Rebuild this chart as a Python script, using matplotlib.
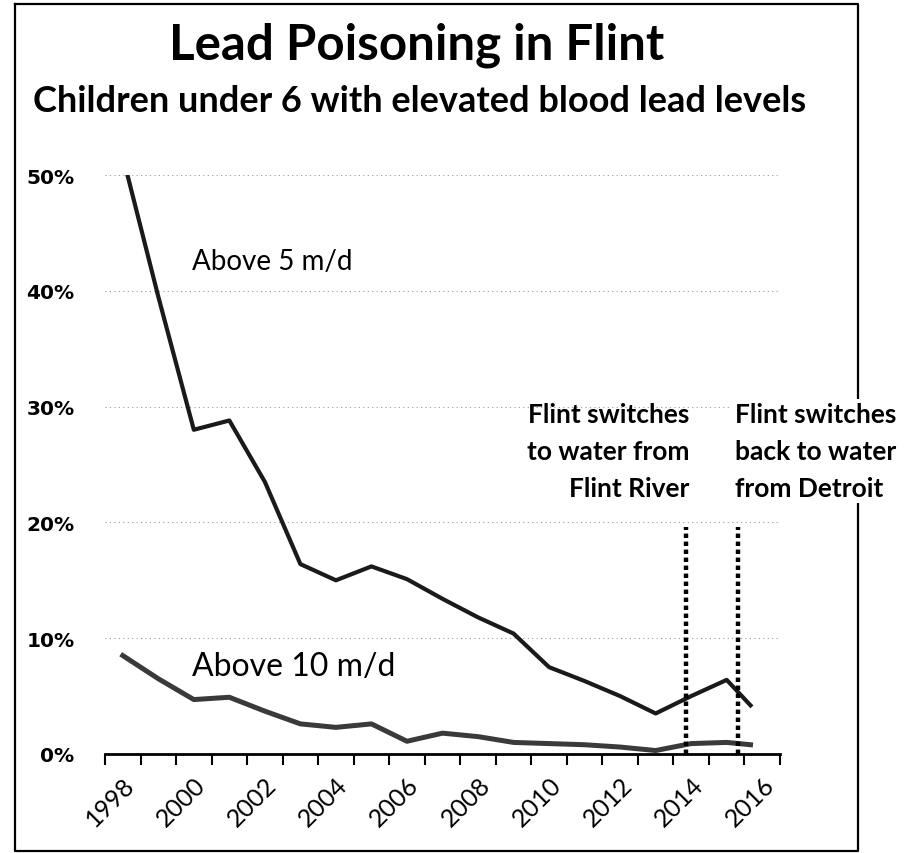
import numpy as np
import matplotlib.pyplot as plt
from matplotlib.lines import Line2D

# data (percent of children under 6)
years = [1998, 1999, 2000, 2001, 2002, 2003, 2004, 2005, 2006, 2007,
         2008, 2009, 2010, 2011, 2012, 2013, 2014, 2015, 2015.67]
above_5 = [51.6, 39.5, 28.0, 28.8, 23.5, 16.4, 15.0, 16.2, 15.1, 13.4,
           11.8, 10.4, 7.5, 6.3, 5.0, 3.5, 5.0, 6.4, 4.2]
above_10 = [8.5, 6.5, 4.7, 4.9, 3.7, 2.6, 2.3, 2.6, 1.1, 1.8,
            1.5, 1.0, 0.9, 0.8, 0.6, 0.3, 0.9, 1.0, 0.8]
tick_years = list(range(1998, 2017, 2))
switch_to_river = 2013.85
switch_back = 2015.32

fig = plt.figure(figsize=(9.23, 8.54), dpi=100)
ax = fig.add_axes([105 / 923, 99 / 854, 675 / 923, 579 / 854])

# outer frame of the chart (drawn under the axes so text boxes hide it)
fig.add_artist(Line2D([15 / 923, 858 / 923, 858 / 923, 15 / 923, 15 / 923],
                      [849 / 854, 849 / 854, 2 / 854, 2 / 854, 849 / 854],
                      transform=fig.transFigure, color="black", lw=1.6,
                      zorder=-5))

ax.plot(years, above_5, color="#1a1a1a", lw=3.0, solid_joinstyle="round")
ax.plot(years, above_10, color="#3a3a3a", lw=3.6, solid_joinstyle="round")

ax.vlines([switch_to_river, switch_back], 0, 19.6, colors="black",
          linestyles=[(0, (1, 0.8))], lw=3.2)

ax.set_xlim(1997.5, 2016.5)
ax.set_ylim(0, 50)

# gridlines
for v in [10, 20, 30, 40, 50]:
    ax.axhline(v, color="#9a9a9a", lw=0.8, ls=(0, (1, 3)), zorder=0)

for s in ["left", "right", "top"]:
    ax.spines[s].set_visible(False)
ax.spines["bottom"].set_linewidth(2)

ax.set_yticks([0, 10, 20, 30, 40, 50])
ax.set_yticklabels(["0%", "10%", "20%", "30%", "40%", "50%"],
                   fontfamily="DejaVu Sans", fontweight="bold", fontsize=14.5)
ax.tick_params(axis="y", length=0, pad=22)

ax.set_xticks(np.arange(1997.5, 2017, 1))
ax.set_xticklabels([])
ax.tick_params(axis="x", which="major", length=8, width=1.5, direction="out")
ax.set_xticks(tick_years, minor=True)
ax.set_xticklabels([str(y) for y in tick_years], minor=True, rotation=45,
                   ha="right", rotation_mode="anchor", fontfamily="Lato",
                   fontsize=18)
ax.tick_params(axis="x", which="minor", length=0, pad=13)

ax.text(1999.95, 42.6, "Above 5 m/d", fontfamily="Lato", fontsize=20,
        va="center", ha="left")
ax.text(1999.95, 7.6, "Above 10 m/d", fontfamily="Lato", fontsize=23,
        va="center", ha="left")

ax.text(2013.96, 30.4, "Flint switches\nto water from\nFlint River",
        fontfamily="Lato", fontweight="bold", fontsize=19, ha="right",
        va="top", linespacing=1.65, clip_on=False)
ax.text(2015.23, 30.4, "Flint switches\nback to water\nfrom Detroit",
        fontfamily="Lato", fontweight="bold", fontsize=19, ha="left",
        va="top", linespacing=1.65, clip_on=False,
        bbox=dict(facecolor="white", edgecolor="none", pad=2))

fig.text(417 / 923, 1 - 45 / 854, "Lead Poisoning in Flint",
         fontfamily="Lato", fontweight="bold", fontsize=35.5, ha="center",
         va="center")
fig.text(420 / 923, 1 - 101 / 854,
         "Children under 6 with elevated blood lead levels",
         fontfamily="Lato", fontweight="bold", fontsize=26, ha="center",
         va="center")

fig.savefig("out.png", dpi=100)
